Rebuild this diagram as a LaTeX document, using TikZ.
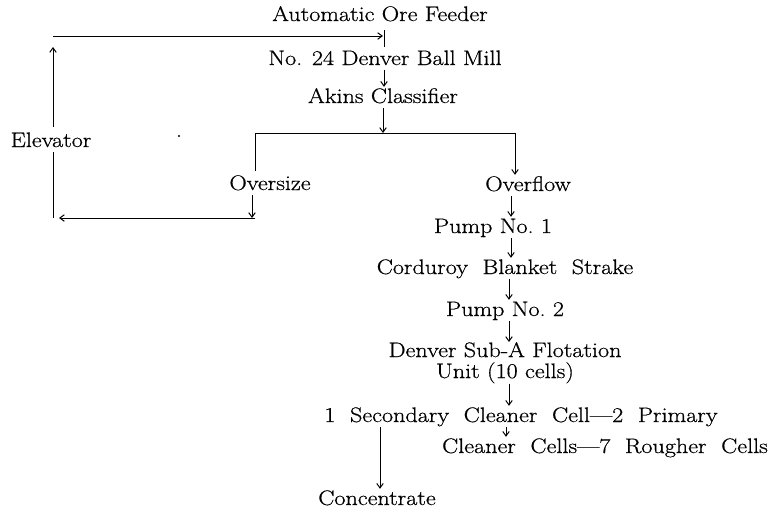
\documentclass[tikz,border=0pt]{standalone}
\usepackage{fontspec}
\setmainfont{Latin Modern Roman}[FakeStretch=1.15,FakeBold=0.6]
\usetikzlibrary{arrows.meta}
\begin{document}
\begin{tikzpicture}[x=1pt,y=-1pt,
  txt/.style={inner sep=0pt, anchor=base, font=\fontsize{21}{21}\selectfont, text height=16pt, text depth=5pt},
  mtxt/.style={inner sep=0pt, anchor=north, align=center, font=\fontsize{21}{21}\selectfont},
  ln/.style={line width=1pt},
  arr/.style={line width=1pt, -{Straight Barb[length=4.5pt,width=6.5pt]}}]
\useasboundingbox (0,0) rectangle (772,509);
% texts
\node[txt] (feeder) at (380,21) {Automatic Ore Feeder};
\node[txt] (mill) at (385,65) {No. 24 Denver Ball Mill};
\node[txt] (akins) at (383,103) {Akins Classifier};
\node[txt] (elevator) at (51,147) {Elevator};
\node[txt] (oversize) at (270,190) {Oversize};
\node[txt] (overflow) at (528,191) {Overflow};
\node[txt] (pump1) at (493,233) {Pump No.\ 1};
\node[txt] (corduroy) at (505,274) {Corduroy\ \ Blanket\ \ Strake};
\node[txt] (pump2) at (505,316) {Pump No.\ 2};
\node[mtxt] (denver) at (505,342) {Denver Sub-A Flotation\\Unit (10 cells)};
\node[txt] (secondary) at (521,422) {1\ \ Secondary\ \ Cleaner\ \ Cell---2\ \ Primary};
\node[txt] (rougher) at (605,453) {Cleaner\ \ Cells---7\ \ Rougher\ \ Cells};
\node[txt] (concentrate) at (377,505) {Concentrate};
% columns and junctions
\coordinate (cA) at (384,0);
\coordinate (cB) at (383,0);
\coordinate (cL) at (53,0);
\coordinate (cO) at (255,0);
\coordinate (cOa) at (252,0);
\coordinate (cR) at (515,0);
\coordinate (cP) at (511,0);
\coordinate (cQ) at (509,0);
\coordinate (cS) at (380,0);
\coordinate (cT) at (506,0);
\coordinate (top) at (0,36);
\coordinate (split) at (0,133);
\coordinate (back) at (0,218);
% connectors
\draw[ln] ([yshift=-4pt]feeder.south -| cA) -- ([yshift=2pt]mill.north -| cA);
\draw[arr] (mill.south -| cA) -- (akins.north -| cA);
\draw[arr] (akins.south -| cB) -- (split -| cB);
\draw[ln] (split -| cO) -- (split -| cR);
\draw[ln] (split -| cO) -- ([yshift=3pt]oversize.north -| cO);
\draw[arr] (split -| cR) -- (overflow.north -| cR);
\draw[arr] (oversize.south -| cOa) -- (back -| cOa);
\draw[ln] (back -| cO) -- (back -| cOa);
\draw[arr] (back -| cO) -- ([xshift=6pt]back -| cL);
\draw[ln] (back -| cL) -- (elevator.south -| cL);
\draw[arr] ([yshift=4pt]elevator.north -| cL) -- ([yshift=-11pt]top -| cL);
\draw[arr] (top -| cL) -- ([xshift=-1pt]top -| cA);
\draw[arr] (overflow.south -| cP) -- (pump1.north -| cP);
\draw[arr] (pump1.south -| cP) -- (corduroy.north -| cP);
\draw[arr] (corduroy.south -| cQ) -- (pump2.north -| cQ);
\draw[arr] (pump2.south -| cQ) -- (denver.north -| cQ);
\draw[arr] (denver.south -| cQ) -- (secondary.north -| cQ);
\draw[arr] (secondary.south -| cS) -- (concentrate.north -| cS);
\draw[arr] (secondary.south -| cT) -- (rougher.north -| cT);
% stray mark
\fill (179,136) circle (1.2pt);
\end{tikzpicture}
\end{document}
